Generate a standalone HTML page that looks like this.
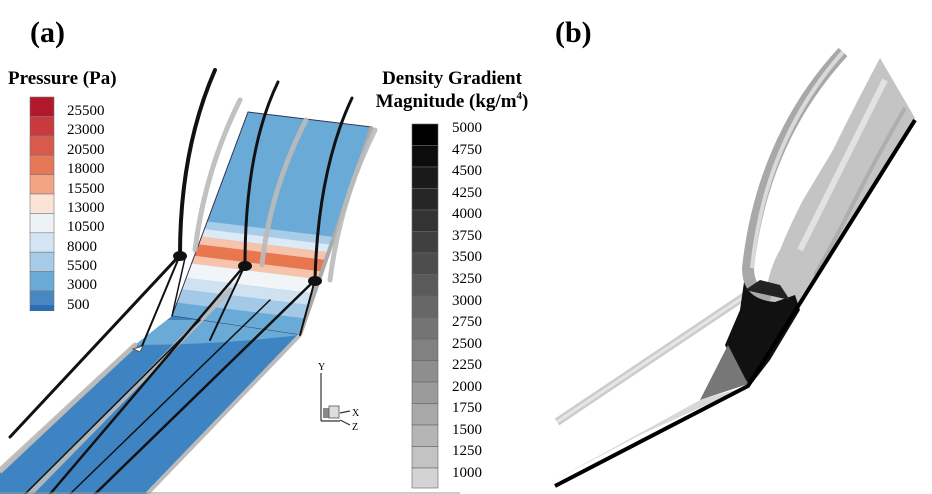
<!DOCTYPE html>
<html><head><meta charset="utf-8"><style>
html,body{margin:0;padding:0;background:#fff;}
svg{display:block;}
text{font-family:"Liberation Serif",serif;}
</style></head><body>
<svg width="932" height="494" viewBox="0 0 932 494" xmlns="http://www.w3.org/2000/svg">
<defs>
<clipPath id="up"><polygon points="248,112 372,127 300,335 172,316"/></clipPath>
<clipPath id="low"><polygon points="172,316 300,335 147,494 0,494 0,472 135,345"/></clipPath>
</defs>
<text x="30" y="42" font-size="30" font-weight="bold">(a)</text>
<text x="555" y="42" font-size="30" font-weight="bold">(b)</text>

<g clip-path="url(#up)">
<rect x="150" y="100" width="250" height="250" fill="#6aaad6"/>
<g transform="skewY(7) translate(0,-30)">
<rect x="150" y="226" width="250" height="8" fill="#a9cde8"/>
<rect x="150" y="234" width="250" height="8" fill="#dbeaf5"/>
<rect x="150" y="242" width="250" height="8" fill="#f7c3aa"/>
<rect x="150" y="250" width="250" height="12" fill="#e8774f"/>
<rect x="150" y="262" width="250" height="8" fill="#f7c3aa"/>
<rect x="150" y="270" width="250" height="15" fill="#f2f5f8"/>
<rect x="150" y="285" width="250" height="12" fill="#cfe2f2"/>
<rect x="150" y="297" width="250" height="14" fill="#a4c9e6"/>
<rect x="150" y="311" width="250" height="40" fill="#6aaad6"/>
</g>
</g>
<polygon points="248,112 372,127 300,335 172,316" fill="none" stroke="#335" stroke-width="1"/>
<g clip-path="url(#low)">
<rect x="0" y="300" width="320" height="200" fill="#3f84c2"/>
<path d="M135,345 Q220,345 300,335 L300,320 L130,320Z" fill="#6aaad6"/>
</g>
<line x1="135" y1="345" x2="0" y2="472" stroke="#bbb" stroke-width="4"/>
<line x1="300" y1="335" x2="147" y2="494" stroke="#bbb" stroke-width="4"/>
<line x1="372" y1="127" x2="300" y2="335" stroke="#aaa" stroke-width="4"/>

<g fill="none" stroke="#bbb" stroke-width="5" stroke-linecap="round" opacity="0.9">
<path d="M240,100 Q205,170 195,250"/>
<path d="M306,120 Q270,190 262,265"/>
<path d="M375,130 Q340,200 330,280"/>
<path d="M0,470 L135,345"/>
<path d="M30,494 L230,290"/>
</g>
<g fill="none" stroke="#111" stroke-linecap="round">
<path d="M215,70 Q180,150 180,255" stroke-width="4"/>
<path d="M278,82 Q245,150 245,265" stroke-width="3"/>
<path d="M352,98 Q318,170 315,280" stroke-width="3"/>
<path d="M10,437 L180,255" stroke-width="3"/>
<path d="M180,255 L142,346" stroke-width="2"/>
<path d="M185,258 L172,316" stroke-width="1.5"/>
<path d="M245,265 L210,340" stroke-width="2"/>
<path d="M315,280 L300,335" stroke-width="2"/>
<path d="M50,494 L245,265" stroke-width="2.5"/>
<path d="M95,494 L315,280" stroke-width="2.5"/>
<path d="M70,494 L270,300" stroke-width="1.5"/>
<path d="M25,494 L200,320" stroke-width="1.5"/>
</g>
<g fill="#111">
<ellipse cx="180" cy="256" rx="7" ry="5"/>
<ellipse cx="245" cy="266" rx="7" ry="5"/>
<ellipse cx="315" cy="281" rx="7" ry="5"/>
</g>
<polygon points="133,349 143,346 140,352" fill="#fff" stroke="#555"/>
<line x1="0" y1="493" x2="460" y2="493" stroke="#999"/>

<g stroke="#333" fill="none" stroke-width="1.2">
<line x1="321" y1="373" x2="321" y2="421"/>
<line x1="321" y1="421" x2="340" y2="421"/>
<line x1="340" y1="413" x2="350" y2="411"/>
<line x1="340" y1="420" x2="350" y2="425"/>
</g>
<rect x="323" y="408" width="12" height="10" fill="#888"/>
<rect x="329" y="406" width="10" height="12" fill="#ddd" stroke="#555" stroke-width="0.8"/>
<text x="318" y="370" font-size="10" font-family="Liberation Sans,sans-serif">Y</text>
<text x="352" y="416" font-size="10" font-family="Liberation Sans,sans-serif">X</text>
<text x="352" y="430" font-size="10" font-family="Liberation Sans,sans-serif">Z</text>

<text x="8" y="84" font-size="19" font-weight="bold">Pressure (Pa)</text>
<g stroke="#777" stroke-width="0.6">
<rect x="30" y="97" width="24" height="19.4" fill="#b2182b"/>
<rect x="30" y="116.4" width="24" height="19.4" fill="#c93a3e"/>
<rect x="30" y="135.8" width="24" height="19.4" fill="#d85a4c"/>
<rect x="30" y="155.2" width="24" height="19.4" fill="#e67858"/>
<rect x="30" y="174.6" width="24" height="19.4" fill="#f3a583"/>
<rect x="30" y="194" width="24" height="19.4" fill="#fbe3d6"/>
<rect x="30" y="213.4" width="24" height="19.4" fill="#edf2f7"/>
<rect x="30" y="232.8" width="24" height="19.4" fill="#d3e5f2"/>
<rect x="30" y="252.2" width="24" height="19.4" fill="#a5cbe6"/>
<rect x="30" y="271.6" width="24" height="19.4" fill="#6aaad6"/>
<rect x="30" y="291" width="24" height="19.4" fill="#4787c3"/>
<rect x="30" y="305" width="24" height="6" fill="#2c6db3" stroke="none"/>
</g>
<g font-size="15">
<text x="67" y="115">25500</text><text x="67" y="134">23000</text>
<text x="67" y="154">20500</text><text x="67" y="173">18000</text>
<text x="67" y="193">15500</text><text x="67" y="212">13000</text>
<text x="67" y="231">10500</text><text x="67" y="251">8000</text>
<text x="67" y="270">5500</text><text x="67" y="289">3000</text>
<text x="67" y="309">500</text>
</g>

<text x="452" y="84" font-size="19" font-weight="bold" text-anchor="middle">Density Gradient</text>
<text x="452" y="107" font-size="19" font-weight="bold" text-anchor="middle">Magnitude (kg/m<tspan font-size="11" dy="-8">4</tspan><tspan dy="8">)</tspan></text>
<g stroke="#666" stroke-width="0.6">
<rect x="412" y="124" width="26" height="21.5" fill="#000"/>
<rect x="412" y="145.5" width="26" height="21.5" fill="#0c0c0c"/>
<rect x="412" y="167" width="26" height="21.5" fill="#1a1a1a"/>
<rect x="412" y="188.5" width="26" height="21.5" fill="#262626"/>
<rect x="412" y="210" width="26" height="21.5" fill="#333"/>
<rect x="412" y="231.5" width="26" height="21.5" fill="#404040"/>
<rect x="412" y="253" width="26" height="21.5" fill="#4d4d4d"/>
<rect x="412" y="274.5" width="26" height="21.5" fill="#5a5a5a"/>
<rect x="412" y="296" width="26" height="21.5" fill="#676767"/>
<rect x="412" y="317.5" width="26" height="21.5" fill="#747474"/>
<rect x="412" y="339" width="26" height="21.5" fill="#818181"/>
<rect x="412" y="360.5" width="26" height="21.5" fill="#8e8e8e"/>
<rect x="412" y="382" width="26" height="21.5" fill="#9b9b9b"/>
<rect x="412" y="403.5" width="26" height="21.5" fill="#a8a8a8"/>
<rect x="412" y="425" width="26" height="21.5" fill="#b5b5b5"/>
<rect x="412" y="446.5" width="26" height="21.5" fill="#c3c3c3"/>
<rect x="412" y="468" width="26" height="20" fill="#d3d3d3"/>
</g>
<g font-size="15">
<text x="452" y="132">5000</text><text x="452" y="154">4750</text>
<text x="452" y="175">4500</text><text x="452" y="197">4250</text>
<text x="452" y="218">4000</text><text x="452" y="240">3750</text>
<text x="452" y="261">3500</text><text x="452" y="283">3250</text>
<text x="452" y="305">3000</text><text x="452" y="326">2750</text>
<text x="452" y="348">2500</text><text x="452" y="369">2250</text>
<text x="452" y="391">2000</text><text x="452" y="412">1750</text>
<text x="452" y="434">1500</text><text x="452" y="455">1250</text>
<text x="452" y="477">1000</text>
</g>

<!-- panel b -->
<path d="M557,422 L745,296" stroke="#ccc" stroke-width="8" fill="none"/>
<path d="M557,422 L745,296" stroke="#e6e6e6" stroke-width="3" fill="none"/>
<path d="M880,58 L915,118 L790,320 L765,300 Q768,270 780,250 Q790,225 803,200 Q818,175 833,150 Q855,105 880,58Z" fill="#c4c4c4"/>
<path d="M885,80 Q860,130 840,170 Q820,210 800,250" stroke="#e2e2e2" stroke-width="6" fill="none"/>
<path d="M905,108 Q875,160 855,200 Q835,240 815,275" stroke="#a0a0a0" stroke-width="4" fill="none" opacity="0.6"/>
<path d="M843,52 Q762,140 748,268 Q748,292 770,300" stroke="#a8a8a8" stroke-width="12" fill="none"/>
<path d="M843,52 Q765,140 752,268" stroke="#dadada" stroke-width="4" fill="none"/>
<path d="M744,282 Q750,300 775,302 L795,295 L800,310 L770,360 L750,386 L735,365 L725,345 L740,310Z" fill="#111"/>
<path d="M745,290 L760,280 L780,285 L790,300 Z" fill="#222"/>
<polygon points="700,400 728,345 748,384" fill="#777"/>
<polygon points="555,480 700,400 748,386 640,435" fill="#d8d8d8"/>
<path d="M555,486 L748,386 L915,120" fill="none" stroke="#000" stroke-width="4" stroke-linejoin="miter"/>
</svg>
</body></html>
